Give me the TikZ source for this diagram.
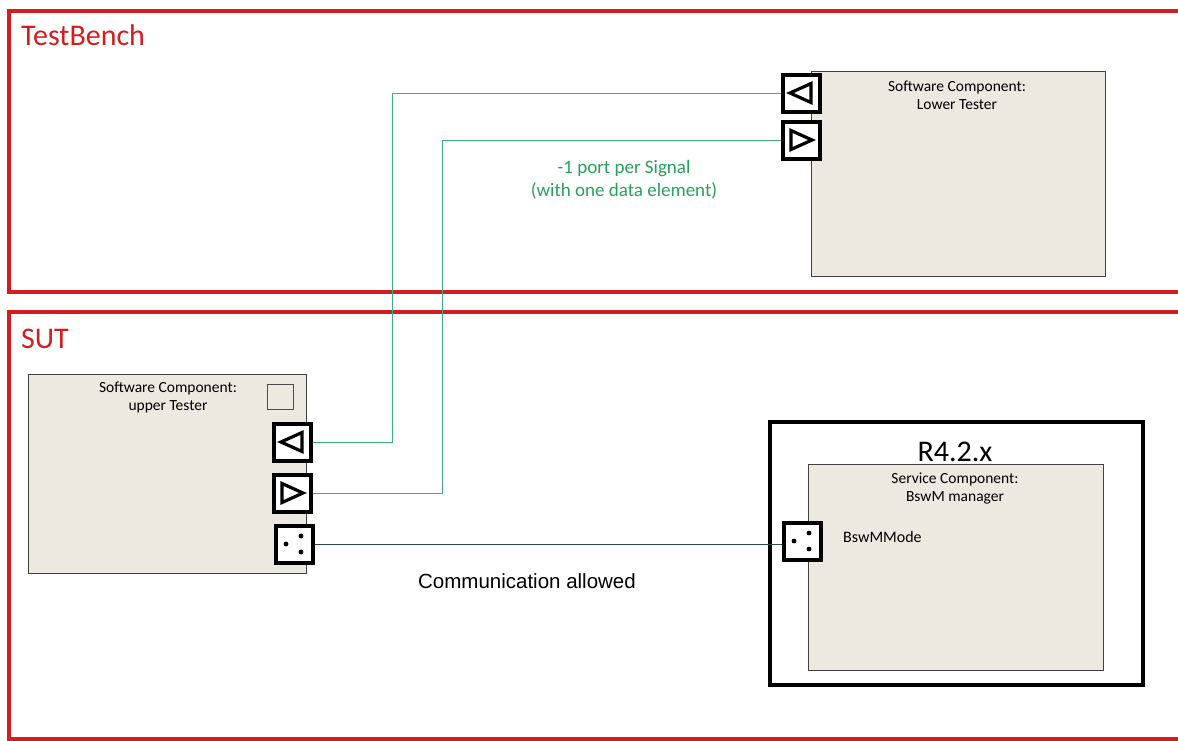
\documentclass[tikz,border=0pt]{standalone}
\usepackage{fontspec}
\setmainfont{Carlito}
\newfontfamily\arialfont{Liberation Sans}
\definecolor{frame}{RGB}{210,30,30}
\definecolor{compfill}{RGB}{236,233,224}
\definecolor{sig}{RGB}{60,175,125}
\definecolor{sigtext}{RGB}{40,160,90}
\definecolor{modeline}{RGB}{45,75,80}
\tikzset{
  region/.style={draw=frame, line width=3.2pt},
  regiontitle/.style={anchor=base west, text=frame, font=\fontsize{30}{34}\selectfont, inner sep=0pt},
  comp/.style={draw=black!75, fill=compfill, line width=0.8pt},
  comptext/.style={align=center, font=\fontsize{15.5}{18}\selectfont, inner sep=0pt, anchor=north},
  port/.style={draw=black, fill=white, line width=4pt, minimum width=37pt, minimum height=37pt, inner sep=0pt},
  sigline/.style={draw=sig, line width=1pt},
  modeconn/.style={draw=modeline, line width=1pt},
}
\newcommand{\reqtri}[1]{% left-pointing triangle in port #1
  \draw[line width=3.2pt, line join=miter] ([xshift=-11pt]#1.center) -- ([xshift=10pt,yshift=9.5pt]#1.center) -- ([xshift=10pt,yshift=-9.5pt]#1.center) -- cycle;}
\newcommand{\provtri}[1]{% right-pointing triangle in port #1
  \draw[line width=3.2pt, line join=miter] ([xshift=11pt]#1.center) -- ([xshift=-10pt,yshift=9.5pt]#1.center) -- ([xshift=-10pt,yshift=-9.5pt]#1.center) -- cycle;}
\newcommand{\modedots}[1]{%
  \fill ([xshift=-8pt]#1.center) circle (2.4pt);
  \fill ([xshift=7pt,yshift=8pt]#1.center) circle (2.4pt);
  \fill ([xshift=7pt,yshift=-8pt]#1.center) circle (2.4pt);}
\begin{document}
\begin{tikzpicture}[x=1pt,y=-1pt]
\useasboundingbox (0,0) rectangle (1178,740);
% regions
\draw[region] (9,11) rectangle (1200,292);
\node[regiontitle] (tbtitle) at (21,45) {TestBench};
\draw[region] (9,312) rectangle (1200,739);
\node[regiontitle] (suttitle) at (21,348) {SUT};
% lower tester
\draw[comp] (811,71) rectangle (1105,276);
\node[comptext] (lowtext) at (957,81) {Software Component:\\Lower Tester};
\node[port] (lp1) at (801,93) {};
\node[port] (lp2) at (801,140) {};
\reqtri{lp1}
\provtri{lp2}
% upper tester
\draw[comp] (28,374) rectangle (306,573);
\node[comptext] (uptext) at (168,382) {Software Component:\\upper Tester};
\node[draw=black!70, fill=compfill, line width=0.8pt, minimum width=26pt, minimum height=25pt, inner sep=0pt] (upsq) at (280,397) {};
\node[port] (up1) at (292,442) {};
\node[port] (up2) at (292,493) {};
\node[port] (up3) at (294,544) {};
\reqtri{up1}
\provtri{up2}
\modedots{up3}
% R4.2.x
\draw[draw=black, line width=3.8pt] (770,422) rectangle (1143,685);
\node[anchor=base, font=\fontsize{30}{34}\selectfont, inner sep=0pt] (rel) at (955,461) {R4.2.x};
\draw[comp] (808,464) rectangle (1103,670);
\node[comptext] (svctext) at (955,473) {Service Component:\\BswM manager};
\node[port] (bp) at (802,541) {};
\modedots{bp}
\node[anchor=west, font=\fontsize{16}{19}\selectfont, inner sep=0pt] (bswmode) at (843,537) {BswMMode};
% connectors
\coordinate (c1) at (392,0);
\coordinate (c2) at (442,0);
\draw[sigline] (up1.east) -- (up1.east -| c1) |- (lp1.west);
\draw[sigline] (up2.east) -- (up2.east -| c2) |- (lp2.west);
\draw[modeconn] (up3.east) -- (bp.west |- up3.east);
% labels
\node[align=center, text=sigtext, font=\fontsize{19}{23}\selectfont, inner sep=0pt] (siglabel) at (624,180) {-1 port per Signal\\(with one data element)};
\node[font=\arialfont\fontsize{20.5}{24}\selectfont, inner sep=0pt] (commlabel) at (527,581) {Communication allowed};
\end{tikzpicture}
\end{document}
